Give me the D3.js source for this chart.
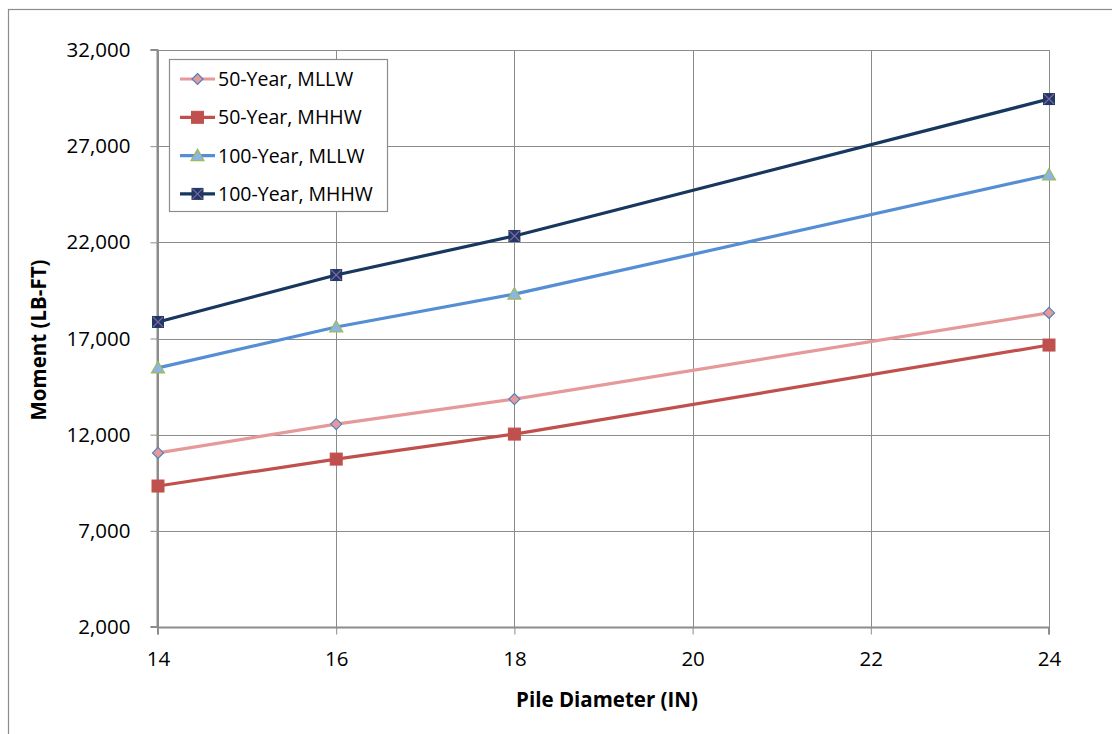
<!DOCTYPE html>
<html>
<head>
<meta charset="utf-8">
<script src="https://cdn.jsdelivr.net/npm/d3@7"></script>
<style>
  html, body { margin: 0; padding: 0; background: #fff; }
  svg { display: block; font-family: "Open Sans", Lato, sans-serif; }
</style>
</head>
<body>
<svg id="chart" width="1112" height="734"></svg>
<script>
// Pile diameters (inches)
const diameters = [14, 16, 18, 24];

// Moment values (lb-ft) per series
const mllw50 = [11050, 12550, 13850, 18330];
const mhhw50 = [9330, 10730, 12030, 16660];
const mllw100 = [15470, 17600, 19310, 25500];
const mhhw100 = [17860, 20300, 22330, 29450];

const seriesNames = ["50-Year, MLLW", "50-Year, MHHW", "100-Year, MLLW", "100-Year, MHHW"];

const xTicks = [14, 16, 18, 20, 22, 24];
const yTicks = [2000, 7000, 12000, 17000, 22000, 27000, 32000];

const series = [
  { name: seriesNames[0], values: mllw50, line: "#e6999a", marker: "diamond", fill: "#e6999a", stroke: "#4f81bd" },
  { name: seriesNames[1], values: mhhw50, line: "#c0504d", marker: "square", fill: "#c0504d", stroke: "#c0504d" },
  { name: seriesNames[2], values: mllw100, line: "#558ed5", marker: "triangle", fill: "#8eb4e3", stroke: "#9bbb59" },
  { name: seriesNames[3], values: mhhw100, line: "#17375e", marker: "x", fill: "#1f3864", stroke: "#8064a2" }
];

const svg = d3.select("#chart");

// outer chart frame
svg.append("rect")
  .attr("x", 8.5).attr("y", 9.5)
  .attr("width", 1200).attr("height", 800)
  .attr("fill", "none").attr("stroke", "#8c8c8c").attr("stroke-width", 1.2);

const plotL = 158, plotR = 1049, plotT = 50, plotB = 627;
const x = d3.scaleLinear().domain([14, 24]).range([plotL, plotR]);
const y = d3.scaleLinear().domain([2000, 32000]).range([plotB, plotT]);

// gridlines
const grid = svg.append("g");
grid.selectAll("line.h").data(yTicks).join("line")
  .attr("x1", plotL).attr("x2", plotR)
  .attr("y1", d => Math.round(y(d)) + 0.5).attr("y2", d => Math.round(y(d)) + 0.5)
  .attr("stroke", "#8c8c8c").attr("stroke-width", 1);
grid.selectAll("line.v").data(xTicks).join("line")
  .attr("y1", plotT).attr("y2", plotB)
  .attr("x1", d => Math.round(x(d)) + 0.5).attr("x2", d => Math.round(x(d)) + 0.5)
  .attr("stroke", "#8c8c8c").attr("stroke-width", 1);

// axes
const fmt = d3.format(",");
const yAxis = svg.append("g")
  .attr("transform", `translate(${plotL - 0.5},0)`)
  .call(d3.axisLeft(y).tickValues(yTicks).tickFormat(fmt).tickSize(7).tickPadding(20));
const xAxis = svg.append("g")
  .attr("transform", `translate(0,${plotB + 0.5})`)
  .call(d3.axisBottom(x).tickValues(xTicks).tickFormat(d3.format("d")).tickSize(7).tickPadding(17));

[yAxis, xAxis].forEach(a => {
  a.select(".domain").attr("stroke", "#8c8c8c").attr("stroke-width", 2);
  a.selectAll(".tick line").attr("stroke", "#8c8c8c").attr("stroke-width", 1);
  a.selectAll(".tick text").attr("fill", "#000").style("font-size", "20.5px")
    .style("font-family", "'Open Sans', Lato, sans-serif");
});
xAxis.select(".domain").attr("d", `M${plotL},7V0H${plotR}V7`);
yAxis.select(".domain").attr("d", `M-7,${plotT}H0V${plotB}H-7`);

// axis titles
svg.append("text")
  .attr("x", 607).attr("y", 707)
  .attr("text-anchor", "middle")
  .style("font-size", "20.5px").style("font-weight", "bold")
  .text("Pile Diameter (IN)");
svg.append("text")
  .attr("transform", "translate(46,340) rotate(-90)")
  .attr("text-anchor", "middle")
  .style("font-size", "20.5px").style("font-weight", "bold")
  .text("Moment (LB-FT)");

// marker drawing
function drawMarker(g, s, cx, cy) {
  if (s.marker === "diamond") {
    g.append("path")
      .attr("d", `M${cx},${cy - 5.5}L${cx + 5.5},${cy}L${cx},${cy + 5.5}L${cx - 5.5},${cy}Z`)
      .attr("fill", s.fill).attr("stroke", s.stroke).attr("stroke-width", 1.2);
  } else if (s.marker === "square") {
    g.append("rect")
      .attr("x", cx - 6).attr("y", cy - 6).attr("width", 12).attr("height", 12)
      .attr("fill", s.fill).attr("stroke", s.stroke).attr("stroke-width", 1);
  } else if (s.marker === "triangle") {
    g.append("path")
      .attr("d", `M${cx},${cy - 6.5}L${cx + 6.5},${cy + 5}L${cx - 6.5},${cy + 5}Z`)
      .attr("fill", s.fill).attr("stroke", s.stroke).attr("stroke-width", 1.2);
  } else {
    g.append("rect")
      .attr("x", cx - 6).attr("y", cy - 6).attr("width", 12).attr("height", 12)
      .attr("fill", s.fill);
    g.append("path")
      .attr("d", `M${cx - 5},${cy - 5}L${cx + 5},${cy + 5}M${cx + 5},${cy - 5}L${cx - 5},${cy + 5}`)
      .attr("stroke", s.stroke).attr("stroke-width", 1.2);
  }
}

const line = d3.line().x(d => x(d[0])).y(d => y(d[1]));
const plot = svg.append("g");
series.forEach(s => {
  const pts = diameters.map((d, i) => [d, s.values[i]]);
  plot.append("path").datum(pts)
    .attr("d", line).attr("fill", "none")
    .attr("stroke", s.line).attr("stroke-width", 3.2)
    .attr("stroke-linejoin", "round");
});
series.forEach(s => {
  const g = plot.append("g");
  diameters.forEach((d, i) => drawMarker(g, s, x(d), y(s.values[i])));
});

// legend
const lg = svg.append("g");
lg.append("rect")
  .attr("x", 169.5).attr("y", 59.5).attr("width", 218).attr("height", 152)
  .attr("fill", "#fff").attr("stroke", "#8c8c8c").attr("stroke-width", 1.2);
series.forEach((s, i) => {
  const cy = 79 + i * 38.3;
  const g = lg.append("g");
  g.append("line").attr("x1", 180).attr("x2", 215).attr("y1", cy).attr("y2", cy)
    .attr("stroke", s.line).attr("stroke-width", 3.2);
  drawMarker(g, s, 197.5, cy);
  g.append("text").attr("x", 218).attr("y", cy + 7)
    .style("font-size", "19.5px").text(s.name);
});
</script>
</body>
</html>
